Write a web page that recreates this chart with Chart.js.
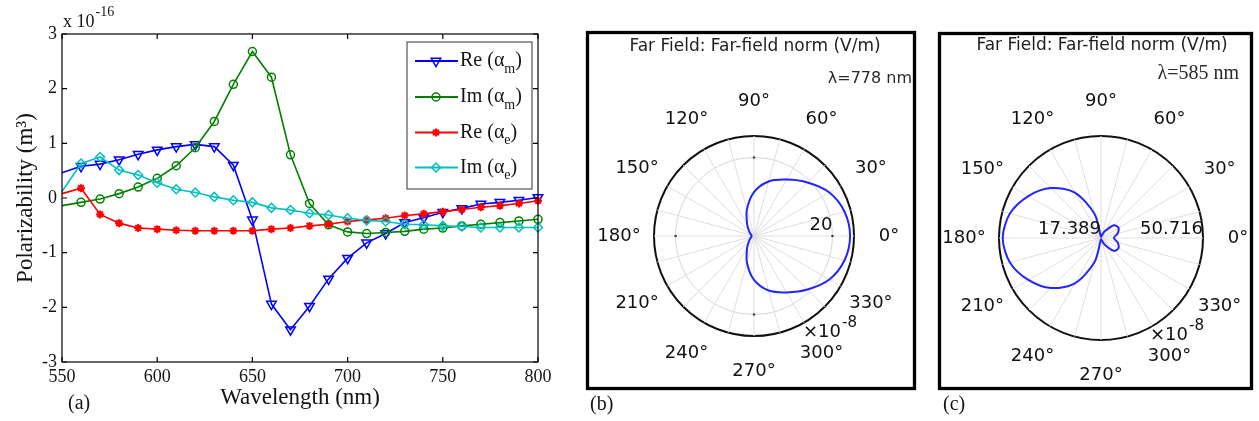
<!DOCTYPE html>
<html>
<head>
<meta charset="utf-8">
<script src="https://cdn.jsdelivr.net/npm/chart.js@4.4.1/dist/chart.umd.min.js"></script>
<style>
html, body { margin: 0; padding: 0; background: #fff; }
body { width: 1259px; height: 421px; position: relative; overflow: hidden; }
canvas { position: absolute; left: 0; top: 0; }
</style>
</head>
<body>
<canvas id="polarizability" width="1259" height="421"></canvas>
<canvas id="farField778" width="1259" height="421"></canvas>
<canvas id="farField585" width="1259" height="421"></canvas>
<script>
// panel (a): polarizability vs wavelength (values x 1e-16 m^3)
var wavelengths = [550, 560, 570, 580, 590, 600, 610, 620, 630, 640, 650, 660, 670,
                   680, 690, 700, 710, 720, 730, 740, 750, 760, 770, 780, 790, 800];
var reAlphaM = [0.46, 0.58, 0.62, 0.70, 0.80, 0.88, 0.94, 0.98, 0.94, 0.60, -0.40, -1.94, -2.41,
                -1.98, -1.48, -1.10, -0.82, -0.65, -0.45, -0.36, -0.26, -0.19, -0.11, -0.08, -0.04, 0.01];
var imAlphaM = [-0.14, -0.08, -0.02, 0.08, 0.20, 0.36, 0.59, 0.92, 1.40, 2.08, 2.68, 2.21, 0.79,
                -0.10, -0.49, -0.62, -0.65, -0.63, -0.61, -0.57, -0.55, -0.51, -0.48, -0.45, -0.42, -0.39];
var reAlphaE = [0.08, 0.18, -0.30, -0.46, -0.55, -0.57, -0.59, -0.60, -0.60, -0.60, -0.60, -0.57, -0.55,
                -0.51, -0.48, -0.43, -0.40, -0.37, -0.32, -0.29, -0.25, -0.21, -0.17, -0.14, -0.10, -0.05];
var imAlphaE = [0.12, 0.63, 0.75, 0.51, 0.42, 0.28, 0.16, 0.10, 0.02, -0.04, -0.08, -0.18, -0.22,
                -0.28, -0.31, -0.37, -0.41, -0.43, -0.48, -0.49, -0.51, -0.52, -0.54, -0.54, -0.54, -0.54];
var xTicks = [550, 600, 650, 700, 750, 800];
var yTicks = [-3, -2, -1, 0, 1, 2, 3];

// panels (b) and (c): far-field norm (x 1e-8 V/m) every 15 degrees, counter-clockwise from 0
var polarAngles = [0, 15, 30, 45, 60, 75, 90, 105, 120, 135, 150, 165,
                   180, 195, 210, 225, 240, 255, 270, 285, 300, 315, 330, 345];
var farField778 = [24.5, 23.9, 22.2, 19.3, 16.6, 14.4, 11.2, 7.0, 3.5, 1.8, 1.0, 0.7,
                   0.6, 0.7, 1.0, 1.8, 3.5, 7.0, 11.2, 14.4, 16.6, 19.3, 22.2, 23.9];
var farField585 = [21.6, 23.0, 24.0, 23.3, 20.0, 18.2, 17.8, 25.5, 34.5, 40.5, 44.8, 48.2,
                   49.5, 48.2, 44.8, 40.5, 34.5, 25.5, 17.8, 18.2, 20.0, 23.3, 24.0, 23.0];
var ringTicks778 = [20];
var ringTicks585 = [17.389, 50.716];

var serif = "'Liberation Serif', 'Times New Roman', serif";
var sans = "'DejaVu Sans', sans-serif";
var ink = "#141414";

var series = [
  { name: "Re", sub: "m", data: reAlphaM, color: "#0000ff", style: "triangle", rot: 180, r: 5.5, w: 1.5 },
  { name: "Im", sub: "m", data: imAlphaM, color: "#008000", style: "circle", rot: 0, r: 4, w: 1.5 },
  { name: "Re", sub: "e", data: reAlphaE, color: "#ff0000", style: "star", rot: 0, r: 4, w: 2 },
  { name: "Im", sub: "e", data: imAlphaE, color: "#00bfbf", style: "rectRot", rot: 0, r: 4.5, w: 1.5 }
];

function fixedTicks(list) {
  return function (scale) {
    scale.ticks = list.map(function (v) { return { value: v }; });
  };
}

function marker(ctx, s, x, y) {
  ctx.save();
  ctx.strokeStyle = s.color;
  ctx.fillStyle = "rgba(0,0,0,0)";
  ctx.lineWidth = s.w;
  Chart.helpers.drawPoint(ctx, { pointStyle: s.style, rotation: s.rot, radius: s.r, borderWidth: s.w }, x, y);
  ctx.restore();
}

var frameA = {
  id: "frameA",
  afterDraw: function (chart) {
    var ctx = chart.ctx, a = chart.chartArea, sx = chart.scales.x, sy = chart.scales.y;
    ctx.save();
    ctx.strokeStyle = "#000";
    ctx.lineWidth = 1.2;
    ctx.strokeRect(a.left, a.top, a.right - a.left, a.bottom - a.top);
    ctx.beginPath();
    xTicks.forEach(function (v) {
      var p = sx.getPixelForValue(v);
      ctx.moveTo(p, a.bottom); ctx.lineTo(p, a.bottom - 5);
      ctx.moveTo(p, a.top); ctx.lineTo(p, a.top + 5);
    });
    yTicks.forEach(function (v) {
      var p = sy.getPixelForValue(v);
      ctx.moveTo(a.left, p); ctx.lineTo(a.left + 5, p);
      ctx.moveTo(a.right, p); ctx.lineTo(a.right - 5, p);
    });
    ctx.stroke();

    // exponent
    ctx.fillStyle = ink;
    ctx.textAlign = "left";
    ctx.textBaseline = "middle";
    ctx.font = "18px " + serif;
    ctx.fillText("x 10", a.left + 1, 22);
    var w = ctx.measureText("x 10").width;
    ctx.font = "14px " + serif;
    ctx.fillText("-16", a.left + 2 + w, 12);

    // legend
    ctx.fillStyle = "#fff";
    ctx.fillRect(407, 42, 125, 147);
    ctx.strokeStyle = "#555";
    ctx.lineWidth = 1.2;
    ctx.strokeRect(407, 42, 125, 147);
    var rows = [61, 97, 132.5, 167.5];
    series.forEach(function (s, i) {
      var y = rows[i];
      ctx.strokeStyle = s.color;
      ctx.lineWidth = 2;
      ctx.beginPath(); ctx.moveTo(415, y); ctx.lineTo(458, y); ctx.stroke();
      marker(ctx, s, 436, y);
      ctx.fillStyle = ink;
      ctx.font = "20px " + serif;
      var t = s.name + " (\u03b1";
      ctx.fillText(t, 460, y);
      var tw = ctx.measureText(t).width;
      ctx.font = "14px " + serif;
      ctx.fillText(s.sub, 460 + tw, y + 8);
      var sw = ctx.measureText(s.sub).width;
      ctx.font = "20px " + serif;
      ctx.fillText(")", 460 + tw + sw, y);
    });

    ctx.font = "20px " + serif;
    ctx.fillText("(a)", 68, 404);
    ctx.restore();
  }
};

new Chart(document.getElementById("polarizability"), {
  type: "line",
  data: {
    datasets: series.map(function (s, k) {
      return {
        label: s.name + " (\u03b1" + s.sub + ")",
        data: wavelengths.map(function (w, i) { return { x: w, y: s.data[i] }; }),
        borderColor: s.color,
        backgroundColor: "rgba(0,0,0,0)",
        borderWidth: 1.6,
        pointStyle: s.style,
        pointRotation: s.rot,
        pointRadius: function (c) { return c.dataIndex === 0 ? 0 : s.r; },
        pointBorderColor: s.color,
        pointBackgroundColor: "rgba(0,0,0,0)",
        pointBorderWidth: s.w,
        tension: 0,
        clip: false,
        order: series.length - k
      };
    })
  },
  options: {
    responsive: false,
    animation: false,
    events: [],
    layout: { padding: { left: 0, top: 34, right: 721, bottom: 0 } },
    plugins: { legend: { display: false }, tooltip: { enabled: false } },
    scales: {
      x: {
        type: "linear", min: 550, max: 800,
        afterBuildTicks: fixedTicks(xTicks),
        afterFit: function (s) { s.height = 59; },
        grid: { display: false, drawTicks: false },
        border: { display: false },
        ticks: { padding: 4, color: ink, autoSkip: false, maxRotation: 0, font: { family: serif, size: 18 } },
        title: { display: true, text: "Wavelength (nm)", color: ink, font: { family: serif, size: 23 }, padding: { top: 0, bottom: 9 } }
      },
      y: {
        type: "linear", min: -3, max: 3,
        afterBuildTicks: fixedTicks(yTicks),
        afterFit: function (s) { s.width = 62; },
        grid: { display: false, drawTicks: false },
        border: { display: false },
        ticks: { padding: 5, color: ink, font: { family: serif, size: 18 } },
        title: { display: true, text: "Polarizability (m\u00b3)", color: ink, font: { family: serif, size: 23 }, padding: { top: 12, bottom: 0 } }
      }
    }
  },
  plugins: [frameA]
});

// polar panels: radar labels run clockwise, so reorder the counter-clockwise readings
var clockwise = polarAngles.map(function (a, i) { return (polarAngles.length - i) % polarAngles.length; });

function polarDecor(cfg) {
  return {
    id: "decor" + cfg.tag,
    afterDraw: function (chart) {
      var ctx = chart.ctx, r = chart.scales.r, labels = chart.data.labels;
      ctx.save();
      ctx.strokeStyle = "#000";
      ctx.lineWidth = 3.3;
      ctx.strokeRect(cfg.frame[0], cfg.frame[1], cfg.frame[2], cfg.frame[3]);

      ctx.fillStyle = "#1e1e1e";
      ctx.textBaseline = "middle";
      ctx.textAlign = "center";
      ctx.font = "17px " + sans;
      ctx.fillText("Far Field: Far-field norm (V/m)", r.xCenter + 1, cfg.titleY);

      ctx.fillStyle = "#111";
      ctx.font = "18px " + sans;
      var out = r.drawingArea + 35;
      labels.forEach(function (deg, i) {
        if (deg % 30 !== 0) return;
        var p = r.getPointPosition(i, out);
        ctx.fillText(deg + "\u00b0", p.x, p.y);
      });

      if (cfg.dots) {
        ctx.fillStyle = "#444";
        labels.forEach(function (deg, i) {
          if (deg % 90 !== 0) return;
          var p = r.getPointPosition(i, r.getDistanceFromCenterForValue(cfg.dots));
          ctx.beginPath(); ctx.arc(p.x, p.y, 1.3, 0, Math.PI * 2); ctx.fill();
        });
        ctx.fillStyle = "#111";
      }

      ctx.textAlign = "right";
      cfg.rings.forEach(function (v) {
        var p = r.getPointPosition(0, r.getDistanceFromCenterForValue(v));
        ctx.fillText(String(v), p.x, p.y - cfg.ringLift);
      });

      ctx.textAlign = "left";
      ctx.fillText("\u00d710", cfg.expX, cfg.expY);
      var w = ctx.measureText("\u00d710").width;
      ctx.font = "15px " + sans;
      ctx.fillText("-8", cfg.expX + w + 1, cfg.expY - 9);

      ctx.textAlign = "right";
      ctx.fillStyle = "#2a2a2a";
      ctx.font = cfg.lambdaFont;
      ctx.fillText(cfg.lambda, cfg.lambdaX, cfg.lambdaY);

      ctx.textAlign = "left";
      ctx.fillStyle = ink;
      ctx.font = "20px " + serif;
      ctx.fillText(cfg.panel, cfg.panelX, 405);
      ctx.restore();
    }
  };
}

function farFieldChart(id, values, min, max, ringTicks, padding, decor) {
  var tickList = [min].concat(ringTicks.filter(function (v) { return v > min && v < max; })).concat([max]);
  return new Chart(document.getElementById(id), {
    type: "radar",
    data: {
      labels: clockwise.map(function (j) { return polarAngles[j]; }),
      datasets: [{
        data: clockwise.map(function (j) { return values[j]; }),
        borderColor: "#2424ff",
        borderWidth: 2,
        backgroundColor: "rgba(0,0,0,0)",
        fill: false,
        pointRadius: 0,
        tension: 0.3
      }]
    },
    options: {
      responsive: false,
      animation: false,
      events: [],
      layout: { padding: padding },
      plugins: { legend: { display: false }, tooltip: { enabled: false } },
      scales: {
        r: {
          min: min, max: max, startAngle: 90,
          afterBuildTicks: fixedTicks(tickList),
          ticks: { display: false },
          pointLabels: { display: false },
          grid: {
            circular: true,
            color: function (c) { return c.tick && c.tick.value >= max ? "#111" : "#d6d6d6"; },
            lineWidth: function (c) { return c.tick && c.tick.value >= max ? 2 : 1; }
          },
          angleLines: { color: "#dedede", lineWidth: 1 }
        }
      }
    },
    plugins: [decor]
  });
}

farFieldChart("farField778", farField778, 0, 25.5, ringTicks778,
  { left: 654, top: 136, right: 404, bottom: 84 },
  polarDecor({ tag: "b", frame: [587.5, 32.5, 327, 356], titleY: 47, rings: ringTicks778, ringLift: 11, dots: 20,
               expX: 803, expY: 332, lambda: "\u03bb=778 nm", lambdaFont: "16px " + sans, lambdaX: 912, lambdaY: 79,
               panel: "(b)", panelX: 590 }));

farFieldChart("farField585", farField585, 17.389, 50.716, ringTicks585,
  { left: 999, top: 136, right: 55, bottom: 80 },
  polarDecor({ tag: "c", frame: [939.5, 33.5, 312, 355], titleY: 46, rings: ringTicks585, ringLift: 9, dots: 0,
               expX: 1150, expY: 335, lambda: "\u03bb=585 nm", lambdaFont: "20px " + serif, lambdaX: 1239, lambdaY: 74,
               panel: "(c)", panelX: 943 }));
</script>
</body>
</html>
